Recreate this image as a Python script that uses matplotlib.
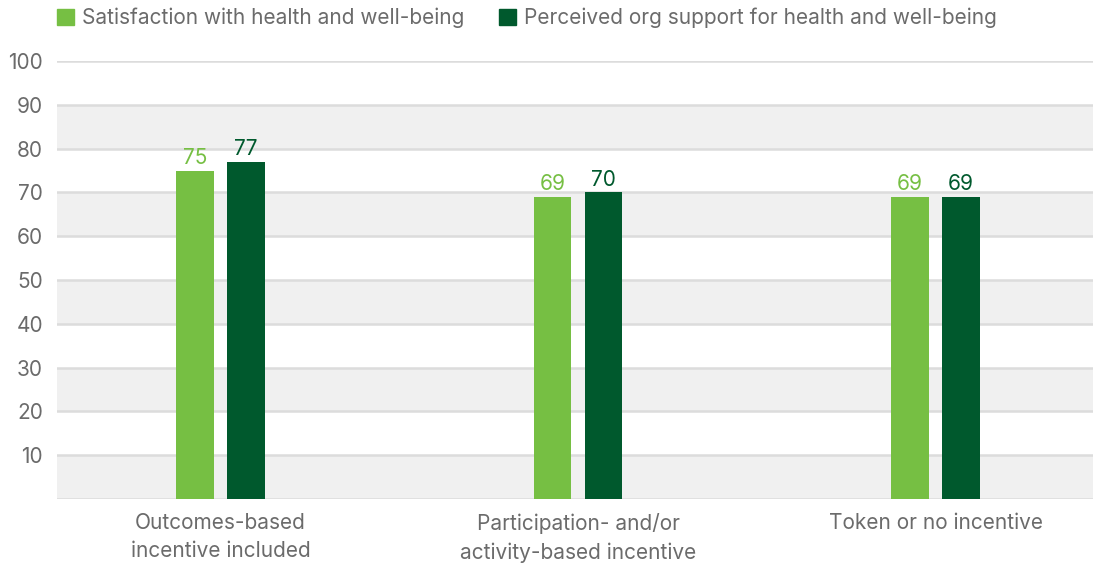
import matplotlib
matplotlib.use("Agg")
import matplotlib.pyplot as plt
from matplotlib.patches import Patch

categories = ["Outcomes-based\nincentive included",
              "Participation- and/or\nactivity-based incentive",
              "Token or no incentive"]
series_names = ["Satisfaction with health and well-being",
                "Perceived org support for health and well-being"]
satisfaction = [75, 69, 69]
support = [77, 70, 69]
yticks = [10, 20, 30, 40, 50, 60, 70, 80, 90, 100]

c_light = "#76BF43"
c_dark = "#00592D"
txt = "#6b6b6b"
fs = 15
plt.rcParams['font.family'] = ['Inter', 'DejaVu Sans']

fig = plt.figure(figsize=(10.93, 5.63), dpi=100)
W, H = 1093, 563
ax = fig.add_axes([57 / W, (H - 499) / H, (1093 - 57) / W, (499 - 61) / H])
ax.set_ylim(0, 100)
ax.set_xlim(-0.457, 2.44)

# alternating bands
for lo in range(0, 100, 20):
    ax.axhspan(lo, lo + 10, color="#f0f0f0", zorder=0, lw=0)
for y in [0] + yticks:
    ax.axhline(y, color="#dcdcdc", lw=1.8, zorder=1)

x = list(range(len(categories)))
w = 0.106
off = 0.0713
b1 = ax.bar([i - off for i in x], satisfaction, w, color=c_light, zorder=2)
b2 = ax.bar([i + off for i in x], support, w, color=c_dark, zorder=2)
for bars, vals, c in [(b1, satisfaction, c_light), (b2, support, c_dark)]:
    for b, v in zip(bars, vals):
        ax.annotate(f"{v}", (b.get_x() + b.get_width() / 2, v), xytext=(0, 2),
                    textcoords="offset points", ha="center", va="bottom",
                    color=c, fontsize=fs, zorder=3)

ax.set_yticks(yticks)
ax.set_yticklabels([str(t) for t in yticks])
ax.set_xticks(x)
ax.set_xticklabels(categories, linespacing=1.5)
ax.tick_params(axis="both", length=0, colors=txt, labelsize=fs)
ax.tick_params(axis="y", pad=10)
ax.tick_params(axis="x", pad=10)
for s in ax.spines.values():
    s.set_visible(False)

handles = [Patch(color=c_light), Patch(color=c_dark)]
fig.legend(handles, series_names, loc="center left", bbox_to_anchor=(38 / W, 1 - 18 / H),
           ncol=2, frameon=False, fontsize=fs, handlelength=0.82, handleheight=0.82,
           handletextpad=0.38, columnspacing=1.68, labelcolor=txt)

fig.savefig("out.png", dpi=100)
